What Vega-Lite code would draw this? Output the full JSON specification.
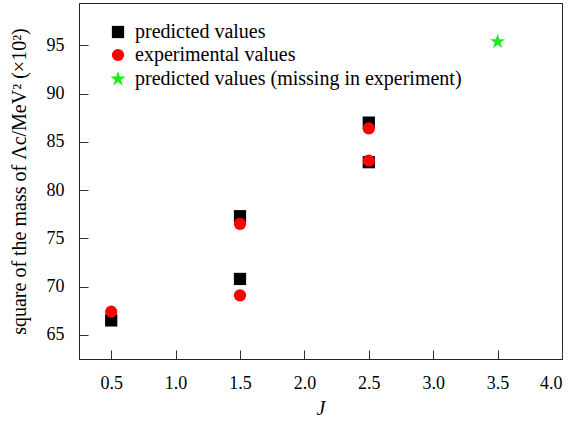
{
  "$schema": "https://vega.github.io/schema/vega-lite/v6.json",
  "autosize": {"type": "none"},
  "width": 483,
  "height": 356,
  "padding": {"left": 79, "top": 3, "right": 14, "bottom": 64},
  "background": "white",
  "config": {
    "font": "Liberation Serif",
    "view": {"stroke": "#222", "strokeWidth": 1},
    "axis": {
      "labelFont": "Liberation Serif",
      "titleFont": "Liberation Serif",
      "labelFontSize": 18,
      "titleFontSize": 20,
      "titleFontWeight": "normal",
      "labelColor": "#000",
      "titleColor": "#000",
      "grid": false,
      "domainColor": "#222",
      "tickColor": "#333",
      "tickSize": -9,
      "labelPadding": 24
    }
  },
  "data": {
    "values": [
      {"J": 0.5, "m": 66.5, "series": "predicted values"},
      {"J": 1.5, "m": 70.8, "series": "predicted values"},
      {"J": 1.5, "m": 77.3, "series": "predicted values"},
      {"J": 2.5, "m": 82.9, "series": "predicted values"},
      {"J": 2.5, "m": 87.0, "series": "predicted values"},
      {"J": 0.5, "m": 67.4, "series": "experimental values"},
      {"J": 1.5, "m": 69.1, "series": "experimental values"},
      {"J": 1.5, "m": 76.5, "series": "experimental values"},
      {"J": 2.5, "m": 83.05, "series": "experimental values"},
      {"J": 2.5, "m": 86.4, "series": "experimental values"},
      {"J": 3.5, "m": 95.4, "series": "predicted values (missing in experiment)"}
    ]
  },
  "mark": {"type": "point", "filled": true, "opacity": 1, "size": 150},
  "encoding": {
    "x": {
      "field": "J", "type": "quantitative",
      "scale": {"domain": [0.25, 4.0], "nice": false, "zero": false},
      "axis": {"values": [0.5, 1.0, 1.5, 2.0, 2.5, 3.0, 3.5, 4.0], "format": ".1f", "title": "J", "titleFontStyle": "italic", "titlePadding": 6}
    },
    "y": {
      "field": "m", "type": "quantitative",
      "scale": {"domain": [62.5, 99.4], "nice": false, "zero": false},
      "axis": {"values": [65, 70, 75, 80, 85, 90, 95], "title": "square of the mass of Λc/MeV²  (×10²)", "titlePadding": 17}
    },
    "color": {
      "field": "series", "type": "nominal",
      "scale": {
        "domain": ["predicted values", "experimental values", "predicted values (missing in experiment)"],
        "range": ["#000000", "#ff0000", "#1aeb1a"]
      },
      "legend": {
        "title": null, "orient": "none", "legendX": 29, "legendY": 19,
        "labelFont": "Liberation Serif", "labelFontSize": 20, "labelColor": "#000", "labelLimit": 500,
        "symbolSize": 150, "rowPadding": 3, "labelOffset": 7, "padding": 0, "symbolOpacity": 1
      }
    },
    "shape": {
      "field": "series", "type": "nominal",
      "scale": {
        "domain": ["predicted values", "experimental values", "predicted values (missing in experiment)"],
        "range": ["square", "circle", "M0,-1.3L0.292,-0.402L1.236,-0.402L0.472,0.153L0.764,1.052L0,0.497L-0.764,1.052L-0.472,0.153L-1.236,-0.402L-0.292,-0.402Z"]
      }
    }
  }
}
